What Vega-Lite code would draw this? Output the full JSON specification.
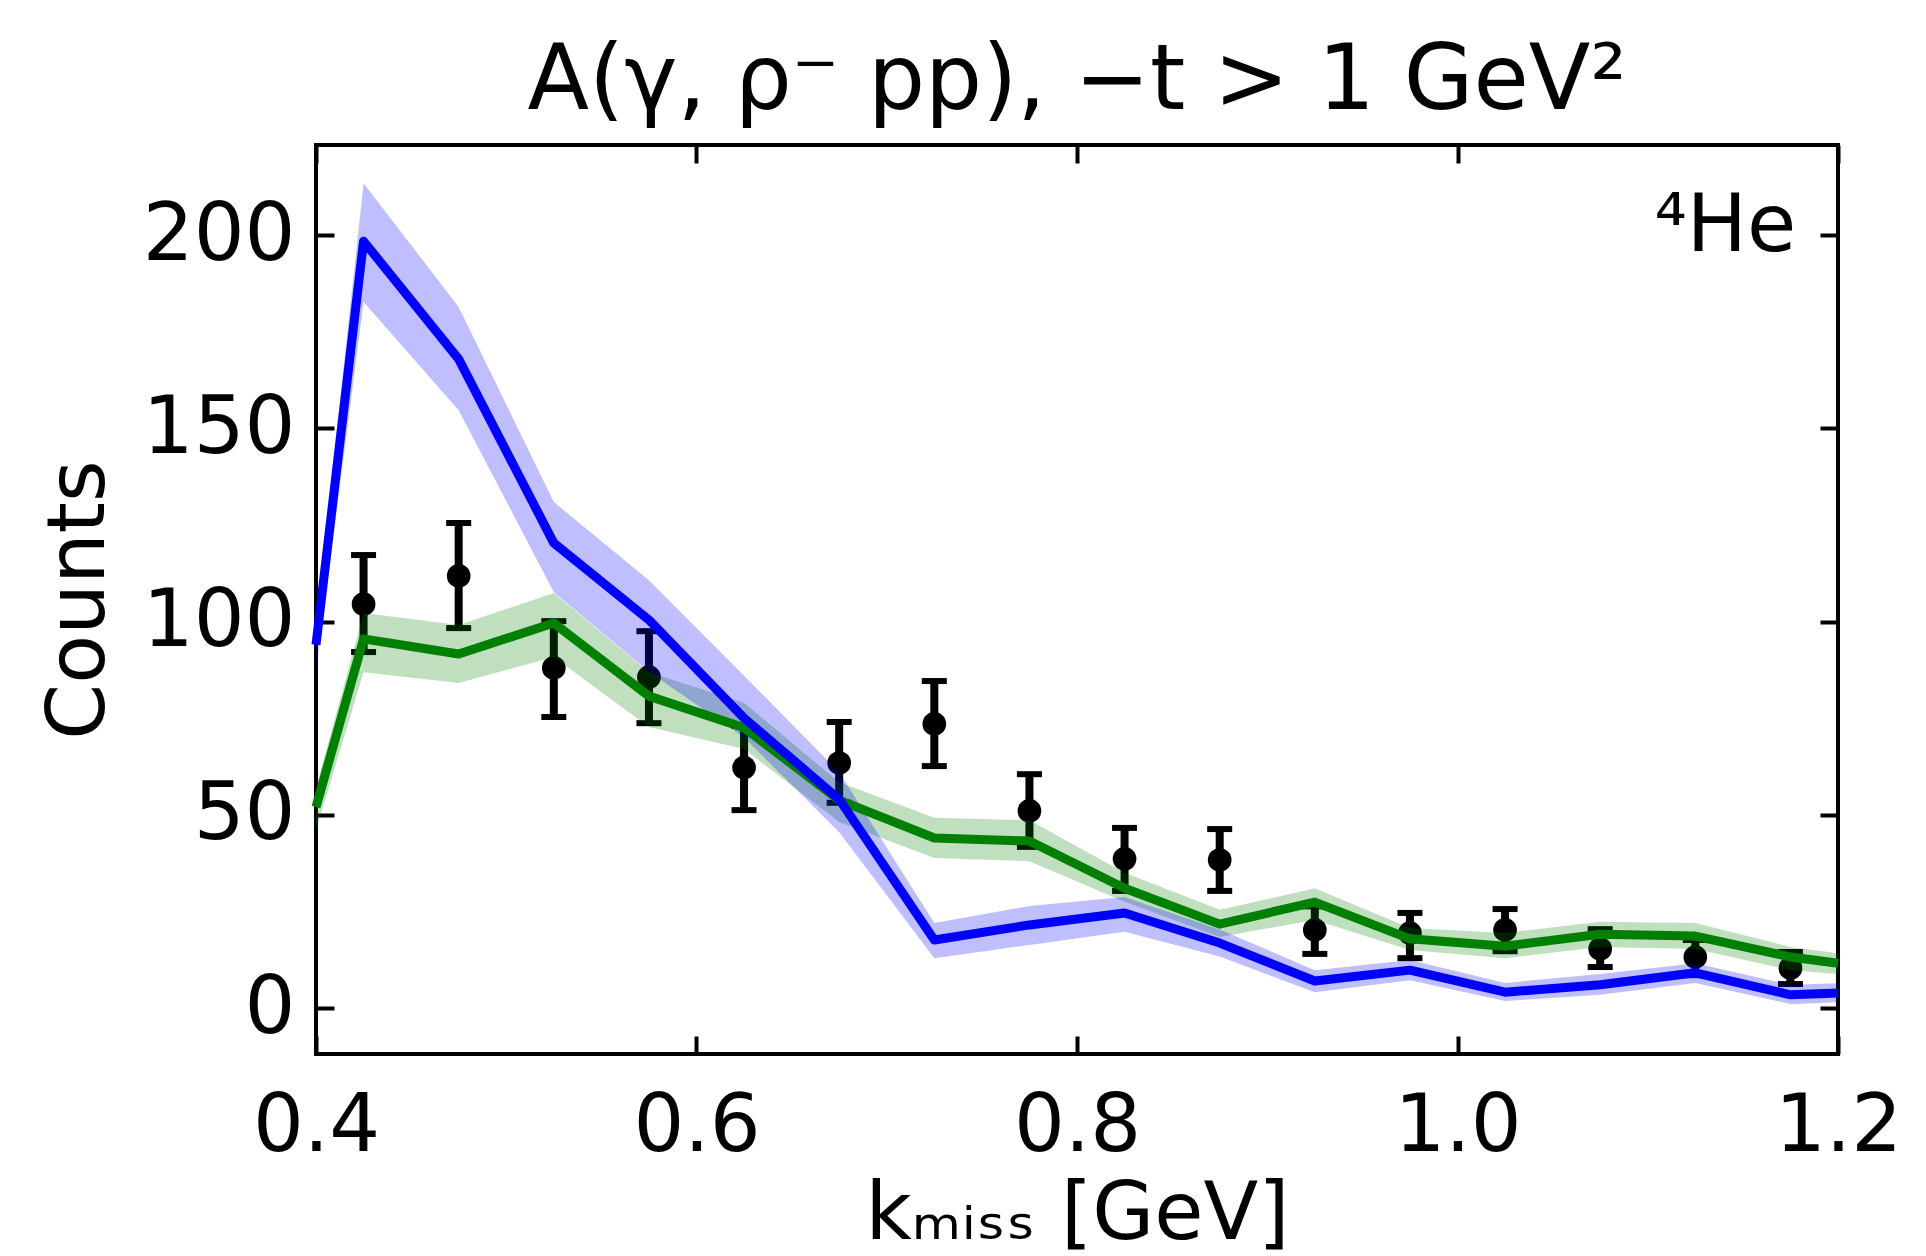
{
  "$schema": "https://vega.github.io/schema/vega-lite/v6.json",
  "autosize": {"type": "none"},
  "width": 1522,
  "height": 909,
  "padding": {"left": 316, "top": 145, "right": 88, "bottom": 202},
  "background": "white",
  "config": {
    "font": "DejaVu Sans",
    "view": {"stroke": "black", "strokeWidth": 4},
    "axis": {
      "domain": false,
      "grid": false,
      "tickSize": -18,
      "tickWidth": 4,
      "tickColor": "black",
      "labelFont": "DejaVu Sans",
      "labelFontSize": 80,
      "labelColor": "black",
      "titleFont": "DejaVu Sans",
      "titleFontSize": 80,
      "titleFontWeight": "normal",
      "titleColor": "black"
    }
  },
  "title": {
    "text": "A(γ, ρ⁻ pp), −t > 1 GeV²",
    "fontSize": 90,
    "fontWeight": "normal",
    "font": "DejaVu Sans",
    "color": "black",
    "anchor": "middle",
    "offset": 15
  },
  "datasets": {
    "pts": [
      {"x": 0.425, "y": 104.5, "lo": 92.1, "hi": 117.2},
      {"x": 0.475, "y": 111.8, "lo": 98.3, "hi": 125.5},
      {"x": 0.525, "y": 88.0, "lo": 75.3, "hi": 100.1},
      {"x": 0.575, "y": 85.6, "lo": 73.7, "hi": 97.5},
      {"x": 0.625, "y": 62.2, "lo": 51.2, "hi": 73.0},
      {"x": 0.675, "y": 63.4, "lo": 53.1, "hi": 74.0},
      {"x": 0.725, "y": 73.5, "lo": 62.6, "hi": 84.6},
      {"x": 0.775, "y": 51.0, "lo": 41.7, "hi": 60.5},
      {"x": 0.825, "y": 38.6, "lo": 30.3, "hi": 46.6},
      {"x": 0.875, "y": 38.3, "lo": 30.3, "hi": 46.3},
      {"x": 0.925, "y": 20.2, "lo": 14.0, "hi": 26.3},
      {"x": 0.975, "y": 19.4, "lo": 12.9, "hi": 24.6},
      {"x": 1.025, "y": 20.2, "lo": 14.7, "hi": 25.6},
      {"x": 1.075, "y": 15.3, "lo": 10.6, "hi": 20.4},
      {"x": 1.125, "y": 13.2, "lo": 8.5, "hi": 17.6},
      {"x": 1.175, "y": 10.3, "lo": 6.2, "hi": 14.5}
    ],
    "curves": [
      {"series": "green", "x": 0.4, "y": 52.0, "lo": 46.0, "hi": 57.0},
      {"series": "green", "x": 0.425, "y": 95.5, "lo": 86.9, "hi": 102.2},
      {"series": "green", "x": 0.475, "y": 91.6, "lo": 84.1, "hi": 99.1},
      {"series": "green", "x": 0.525, "y": 99.6, "lo": 90.8, "hi": 107.4},
      {"series": "green", "x": 0.575, "y": 80.7, "lo": 72.7, "hi": 86.9},
      {"series": "green", "x": 0.625, "y": 72.5, "lo": 67.0, "hi": 79.0},
      {"series": "green", "x": 0.675, "y": 53.8, "lo": 48.1, "hi": 58.4},
      {"series": "green", "x": 0.725, "y": 44.0, "lo": 38.8, "hi": 49.2},
      {"series": "green", "x": 0.775, "y": 43.2, "lo": 38.0, "hi": 48.6},
      {"series": "green", "x": 0.825, "y": 31.0, "lo": 27.5, "hi": 35.0},
      {"series": "green", "x": 0.875, "y": 21.7, "lo": 18.4, "hi": 25.4},
      {"series": "green", "x": 0.925, "y": 27.4, "lo": 22.8, "hi": 31.0},
      {"series": "green", "x": 0.975, "y": 17.9, "lo": 15.0, "hi": 20.7},
      {"series": "green", "x": 1.025, "y": 16.0, "lo": 12.9, "hi": 19.4},
      {"series": "green", "x": 1.075, "y": 19.1, "lo": 15.8, "hi": 22.3},
      {"series": "green", "x": 1.125, "y": 18.6, "lo": 15.3, "hi": 22.0},
      {"series": "green", "x": 1.175, "y": 13.2, "lo": 9.8, "hi": 15.8},
      {"series": "green", "x": 1.2, "y": 11.6, "lo": 8.8, "hi": 14.2},
      {"series": "blue", "x": 0.4, "y": 94.0, "lo": 87.0, "hi": 100.0},
      {"series": "blue", "x": 0.425, "y": 198.4, "lo": 182.7, "hi": 213.4},
      {"series": "blue", "x": 0.475, "y": 167.9, "lo": 154.7, "hi": 181.4},
      {"series": "blue", "x": 0.525, "y": 120.3, "lo": 107.6, "hi": 130.9},
      {"series": "blue", "x": 0.575, "y": 100.4, "lo": 87.0, "hi": 110.7},
      {"series": "blue", "x": 0.625, "y": 75.0, "lo": 70.0, "hi": 86.0},
      {"series": "blue", "x": 0.675, "y": 54.0, "lo": 45.5, "hi": 61.0},
      {"series": "blue", "x": 0.725, "y": 17.6, "lo": 12.9, "hi": 22.0},
      {"series": "blue", "x": 0.775, "y": 21.5, "lo": 16.3, "hi": 26.4},
      {"series": "blue", "x": 0.825, "y": 24.6, "lo": 19.7, "hi": 28.7},
      {"series": "blue", "x": 0.875, "y": 16.8, "lo": 13.3, "hi": 20.3},
      {"series": "blue", "x": 0.925, "y": 7.0, "lo": 4.1, "hi": 9.8},
      {"series": "blue", "x": 0.975, "y": 9.8, "lo": 7.2, "hi": 12.4},
      {"series": "blue", "x": 1.025, "y": 4.1, "lo": 1.8, "hi": 6.5},
      {"series": "blue", "x": 1.075, "y": 6.0, "lo": 3.4, "hi": 8.8},
      {"series": "blue", "x": 1.125, "y": 9.1, "lo": 6.5, "hi": 11.6},
      {"series": "blue", "x": 1.175, "y": 3.4, "lo": 1.0, "hi": 6.0},
      {"series": "blue", "x": 1.2, "y": 3.9, "lo": 1.5, "hi": 6.4}
    ],
    "labels": [
      {"x": 1.178, "y": 196, "label": "⁴He"}
    ]
  },
  "resolve": {"axis": {"x": "independent", "y": "independent"}},
  "layer": [
    {
      "data": {"name": "pts"},
      "mark": {"type": "rule", "color": "black", "strokeWidth": 8, "opacity": 1},
      "encoding": {
        "x": {"field": "x", "type": "quantitative",
              "scale": {"domain": [0.4, 1.2], "nice": false, "zero": false},
              "axis": {"orient": "bottom", "values": [0.4, 0.6, 0.8, 1.0, 1.2], "format": ".1f",
                       "labelPadding": 51, "title": "kₘᵢₛₛ [GeV]", "titlePadding": 9,
                       "labelFlush": false}},
        "y": {"field": "lo", "type": "quantitative",
              "scale": {"domain": [-11.9, 223.3], "nice": false, "zero": false},
              "axis": {"orient": "left", "values": [0, 50, 100, 150, 200],
                       "labelPadding": 39, "title": "Counts", "titlePadding": 22}},
        "y2": {"field": "hi"}
      }
    },
    {
      "data": {"name": "pts"},
      "mark": {"type": "tick", "color": "black", "opacity": 1, "orient": "horizontal", "size": 25, "thickness": 6},
      "encoding": {
        "x": {"field": "x", "type": "quantitative",
              "axis": {"orient": "top", "values": [0.4, 0.6, 0.8, 1.0, 1.2], "labels": false, "title": null}},
        "y": {"field": "lo", "type": "quantitative",
              "axis": {"orient": "right", "values": [0, 50, 100, 150, 200], "labels": false, "title": null}}
      }
    },
    {
      "data": {"name": "pts"},
      "mark": {"type": "tick", "color": "black", "opacity": 1, "orient": "horizontal", "size": 25, "thickness": 6},
      "encoding": {
        "x": {"field": "x", "type": "quantitative", "axis": null},
        "y": {"field": "hi", "type": "quantitative", "axis": null}
      }
    },
    {
      "data": {"name": "pts"},
      "mark": {"type": "circle", "color": "black", "opacity": 1, "size": 560},
      "encoding": {
        "x": {"field": "x", "type": "quantitative", "axis": null},
        "y": {"field": "y", "type": "quantitative", "axis": null}
      }
    },
    {
      "data": {"name": "curves"},
      "mark": {"type": "area", "opacity": 0.25},
      "encoding": {
        "x": {"field": "x", "type": "quantitative", "axis": null},
        "y": {"field": "lo", "type": "quantitative", "axis": null},
        "y2": {"field": "hi"},
        "color": {"field": "series", "type": "nominal",
                  "scale": {"domain": ["blue", "green"], "range": ["#0000ff", "#008000"]}, "legend": null}
      }
    },
    {
      "data": {"name": "curves"},
      "mark": {"type": "line", "strokeWidth": 9, "strokeJoin": "round"},
      "encoding": {
        "x": {"field": "x", "type": "quantitative", "axis": null},
        "y": {"field": "y", "type": "quantitative", "axis": null},
        "color": {"field": "series", "type": "nominal", "legend": null}
      }
    },
    {
      "data": {"name": "labels"},
      "mark": {"type": "text", "align": "right", "baseline": "alphabetic", "fontSize": 80, "color": "black", "font": "DejaVu Sans"},
      "encoding": {
        "x": {"field": "x", "type": "quantitative", "axis": null},
        "y": {"field": "y", "type": "quantitative", "axis": null},
        "text": {"field": "label"}
      }
    }
  ]
}
